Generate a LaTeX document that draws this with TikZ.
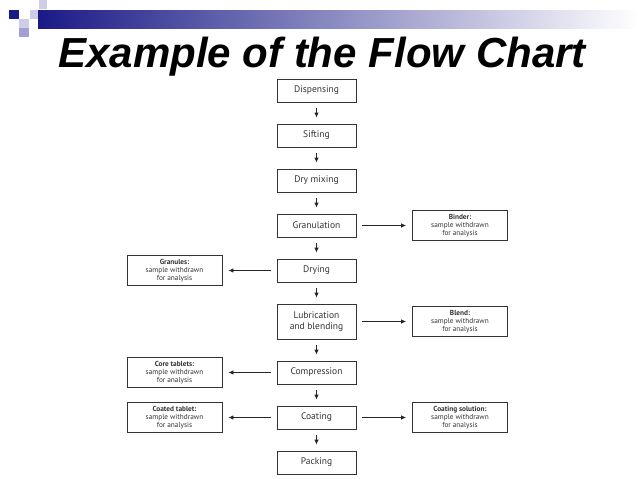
\documentclass[tikz,border=0pt]{standalone}
\usepackage{fontspec}
\setmainfont{PT Sans}
\newfontfamily\titlefont{Liberation Sans}
\usepackage{tikz}
\usetikzlibrary{arrows.meta,positioning}

\definecolor{navy}{RGB}{26,26,135}
\definecolor{lav}{RGB}{160,160,210}
\definecolor{lavlight}{RGB}{205,205,232}
\definecolor{boxtext}{RGB}{50,50,50}

\tikzset{
  stage/.style={draw=black!80, line width=0.8pt, minimum width=79pt, minimum height=23pt,
    inner sep=1pt, align=center, text=boxtext, font=\fontsize{9.5}{11}\selectfont},
  sample/.style={draw=black!80, line width=0.8pt, minimum width=95pt, minimum height=30pt,
    inner sep=1pt, align=center, text=boxtext, font=\fontsize{7.3}{8}\selectfont},
  flow/.style={-{Latex[length=5pt,width=4.5pt]}, line width=0.8pt, black!85,
    shorten <=6pt, shorten >=6pt},
}

\begin{document}
\begin{tikzpicture}[x=1pt, y=-1pt]

\useasboundingbox (0,0) rectangle (638,479);

% Intestazione
\shade[left color=navy, right color=white] (38,10) rectangle (638,28);
\fill[navy] (9,10) rectangle (19,19);
\fill[lavlight] (39,0) rectangle (47,9);
\fill[lavlight] (30,10) rectangle (38,19);
\fill[lavlight] (19,19) rectangle (29,28);
\fill[lav] (19,28) rectangle (29,37);

% Titolo
\node[anchor=base, font=\titlefont\fontsize{42}{46}\selectfont\bfseries\itshape] (title) at (322,67)
  {Example of the Flow Chart};

% Colonna principale
\node[stage] (disp) at (316.5,90.5) {Dispensing};
\node[stage] (sift) at (316.5,135.5) {Sifting};
\node[stage] (drymix) at (316.5,180.5) {Dry mixing};
\node[stage] (gran) at (316.5,225.5) {Granulation};
\node[stage] (dry) at (316.5,270.5) {Drying};
\node[stage, minimum height=35pt] (lub) at (316.5,321.5) {Lubrication\\and blending};
\node[stage] (comp) at (316.5,372.5) {Compression};
\node[stage] (coat) at (316.5,417.5) {Coating};
\node[stage] (pack) at (316.5,462.5) {Packing};

% Campioni
\node[sample] (binder) at (460,225.5) {\textbf{Binder:}\\sample withdrawn\\for analysis};
\node[sample] (granules) at (174.5,270.5) {\textbf{Granules:}\\sample withdrawn\\for analysis};
\node[sample] (blend) at (460,321.5) {\textbf{Blend:}\\sample withdrawn\\for analysis};
\node[sample] (core) at (174.5,372.5) {\textbf{Core tablets:}\\sample withdrawn\\for analysis};
\node[sample] (coated) at (174.5,417.5) {\textbf{Coated tablet:}\\sample withdrawn\\for analysis};
\node[sample] (coatsol) at (460,417.5) {\textbf{Coating solution:}\\sample withdrawn\\for analysis};

% Frecce verticali
\draw[flow] (disp) -- (sift);
\draw[flow] (sift) -- (drymix);
\draw[flow] (drymix) -- (gran);
\draw[flow] (gran) -- (dry);
\draw[flow] (dry) -- (lub);
\draw[flow] (lub) -- (comp);
\draw[flow] (comp) -- (coat);
\draw[flow] (coat) -- (pack);

% Frecce orizzontali
\draw[flow] (gran) -- (binder);
\draw[flow] (dry) -- (granules);
\draw[flow] (lub) -- (blend);
\draw[flow] (comp) -- (core);
\draw[flow] (coat) -- (coated);
\draw[flow] (coat) -- (coatsol);

\end{tikzpicture}
\end{document}
